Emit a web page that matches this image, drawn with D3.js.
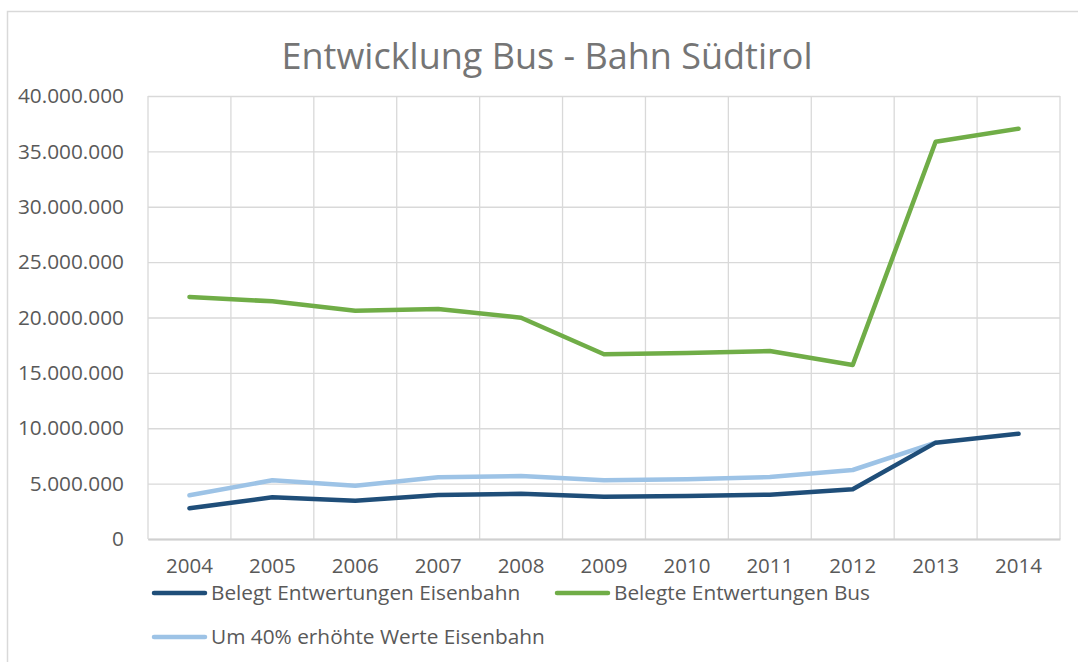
<!DOCTYPE html>
<html>
<head>
<meta charset="utf-8">
<script src="https://cdn.jsdelivr.net/npm/d3@7"></script>
<title>Entwicklung Bus - Bahn Südtirol</title>
<style>
  body { margin: 0; background: #fff; }
  text { font-family: "Open Sans", sans-serif; fill: #595959; }
</style>
</head>
<body>
<script>
// data
var years = ["2004","2005","2006","2007","2008","2009","2010","2011","2012","2013","2014"];
var bahn = [2770000, 3770000, 3460000, 3970000, 4090000, 3820000, 3880000, 4000000, 4490000, 8700000, 9500000];
var bus = [21850000, 21460000, 20600000, 20770000, 19980000, 16680000, 16800000, 16970000, 15710000, 35870000, 37050000];
var bahnPlus = [3950000, 5300000, 4810000, 5570000, 5690000, 5300000, 5390000, 5600000, 6230000, 8700000, null];
var yTicks = [0, 5000000, 10000000, 15000000, 20000000, 25000000, 30000000, 35000000, 40000000];
var seriesNames = ["Belegt Entwertungen Eisenbahn", "Belegte Entwertungen Bus", "Um 40% erhöhte Werte Eisenbahn"];

var W = 1078, H = 662;
var plotL = 148, plotR = 1060, plotT = 96, plotB = 539;

var svg = d3.select("body").append("svg")
  .attr("width", W).attr("height", H);

// chart frame
svg.append("rect")
  .attr("x", 7.5).attr("y", 11.5)
  .attr("width", W + 20).attr("height", H + 20)
  .attr("fill", "none").attr("stroke", "#d9d9d9").attr("stroke-width", 1.5);

var x = d3.scaleBand().domain(years).range([plotL, plotR]).padding(0);
var y = d3.scaleLinear().domain([0, 40000000]).range([plotB, plotT]);

var fmt = function(d) {
  return d3.format(",")(d).replace(/,/g, ".");
};

// horizontal grid
svg.append("g")
  .attr("transform", "translate(" + plotL + ",0)")
  .call(d3.axisLeft(y).tickValues(yTicks).tickSize(-(plotR - plotL)).tickFormat(""))
  .call(function(g) {
    g.select(".domain").remove();
    g.selectAll("line").attr("stroke", "#d9d9d9").attr("stroke-width", 1.3);
  });

// vertical grid (band edges)
svg.append("g").selectAll("line")
  .data(years.concat(["end"]))
  .enter().append("line")
  .attr("x1", function(d, i) { return i < years.length ? x(d) : x.range()[1]; })
  .attr("x2", function(d, i) { return i < years.length ? x(d) : x.range()[1]; })
  .attr("y1", plotT).attr("y2", plotB)
  .attr("stroke", "#d9d9d9").attr("stroke-width", 1.3);

// y labels
svg.append("g")
  .attr("transform", "translate(" + plotL + ",0)")
  .call(d3.axisLeft(y).tickValues(yTicks).tickSize(0).tickPadding(24).tickFormat(fmt))
  .call(function(g) {
    g.select(".domain").remove();
    g.selectAll("text").style("font-size", "20.8px").style("font-family", "'Open Sans', sans-serif").attr("fill", "#595959");
  });

// x axis
svg.append("g")
  .attr("transform", "translate(0," + plotB + ")")
  .call(d3.axisBottom(x).tickSize(0).tickPadding(19))
  .call(function(g) {
    g.select(".domain").attr("stroke", "#d0d0d0").attr("stroke-width", 2);
    g.selectAll("text").style("font-size", "20.5px").style("font-family", "'Open Sans', sans-serif").attr("fill", "#595959");
  });

var line = d3.line()
  .defined(function(d) { return d != null; })
  .x(function(d, i) { return x(years[i]) + x.bandwidth() / 2; })
  .y(function(d) { return y(d); });

var series = [
  { values: bahnPlus, color: "#9dc3e6" },
  { values: bahn, color: "#1f4e79" },
  { values: bus, color: "#70ad47" }
];
// light blue first so the dark line sits on top where they meet
svg.append("g").selectAll("path")
  .data(series)
  .enter().append("path")
  .attr("d", function(d) { return line(d.values); })
  .attr("fill", "none")
  .attr("stroke", function(d) { return d.color; })
  .attr("stroke-width", 4.5)
  .attr("stroke-linecap", "round")
  .attr("stroke-linejoin", "round");

// title
svg.append("text")
  .attr("x", 547).attr("y", 69)
  .attr("text-anchor", "middle")
  .style("font-size", "36px")
  .style("fill", "#757575")
  .text("Entwicklung Bus - Bahn Südtirol");

// legend
var legendItems = [
  { name: seriesNames[0], color: "#1f4e79", lx: 152, ly: 593 },
  { name: seriesNames[1], color: "#70ad47", lx: 555, ly: 593 },
  { name: seriesNames[2], color: "#9dc3e6", lx: 152, ly: 637 }
];
var lg = svg.append("g").selectAll("g")
  .data(legendItems)
  .enter().append("g")
  .attr("transform", function(d) { return "translate(" + d.lx + "," + d.ly + ")"; });
lg.append("line")
  .attr("x1", 2).attr("x2", 53).attr("y1", 0).attr("y2", 0)
  .attr("stroke", function(d) { return d.color; })
  .attr("stroke-width", 4.5)
  .attr("stroke-linecap", "round");
lg.append("text")
  .attr("x", 59).attr("y", 7)
  .style("font-size", "20.8px")
  .text(function(d) { return d.name; });
</script>
</body>
</html>
